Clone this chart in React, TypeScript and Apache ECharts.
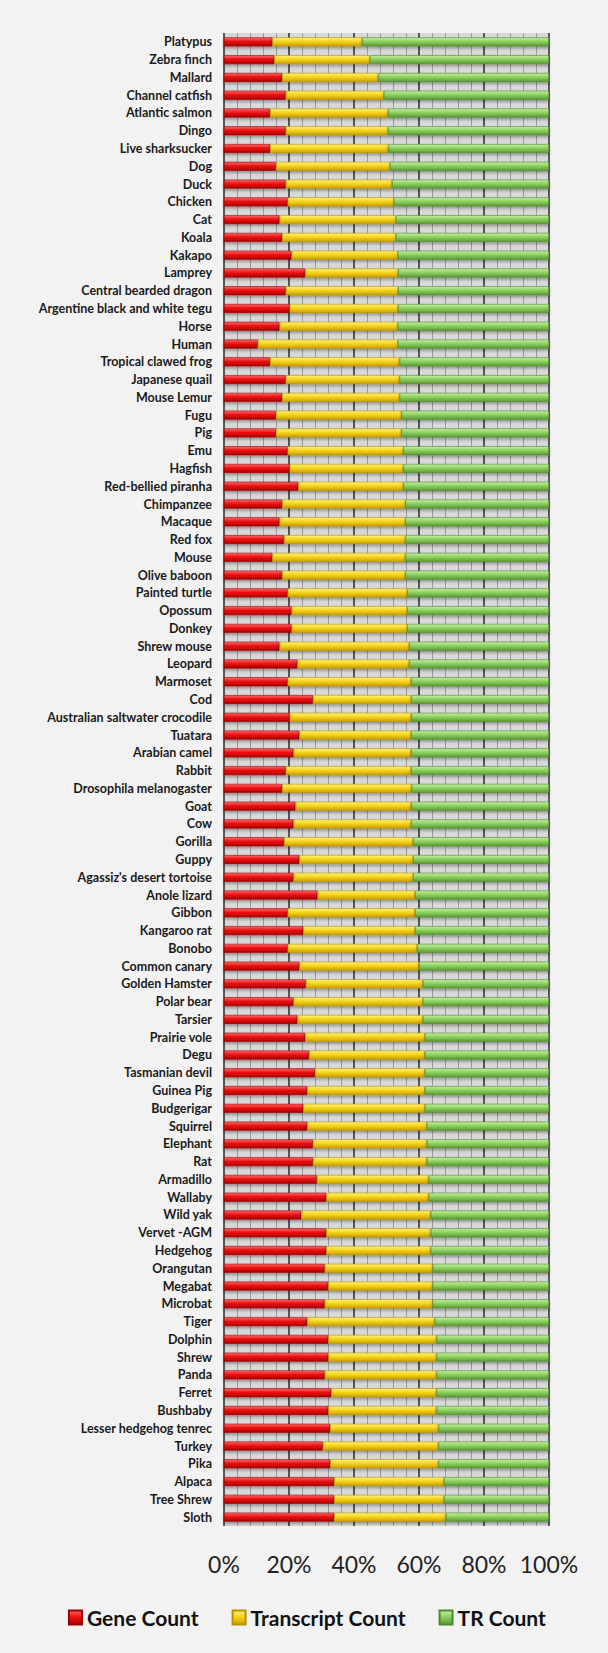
import React, { useEffect, useRef } from "react";
import * as echarts from "echarts";

const species = [
  "Platypus", "Zebra finch", "Mallard", "Channel catfish", "Atlantic salmon", "Dingo",
  "Live sharksucker", "Dog", "Duck", "Chicken", "Cat", "Koala", "Kakapo", "Lamprey",
  "Central bearded dragon", "Argentine black and white tegu", "Horse", "Human",
  "Tropical clawed frog", "Japanese quail", "Mouse Lemur", "Fugu", "Pig", "Emu", "Hagfish",
  "Red-bellied piranha", "Chimpanzee", "Macaque", "Red fox", "Mouse", "Olive baboon",
  "Painted turtle", "Opossum", "Donkey", "Shrew mouse", "Leopard", "Marmoset", "Cod",
  "Australian saltwater crocodile", "Tuatara", "Arabian camel", "Rabbit",
  "Drosophila melanogaster", "Goat", "Cow", "Gorilla", "Guppy", "Agassiz's desert tortoise",
  "Anole lizard", "Gibbon", "Kangaroo rat", "Bonobo", "Common canary", "Golden Hamster",
  "Polar bear", "Tarsier", "Prairie vole", "Degu", "Tasmanian devil", "Guinea Pig",
  "Budgerigar", "Squirrel", "Elephant", "Rat", "Armadillo", "Wallaby", "Wild yak",
  "Vervet -AGM", "Hedgehog", "Orangutan", "Megabat", "Microbat", "Tiger", "Dolphin",
  "Shrew", "Panda", "Ferret", "Bushbaby", "Lesser hedgehog tenrec", "Turkey", "Pika",
  "Alpaca", "Tree Shrew", "Sloth",
];

const geneCount = [
  14.9, 15.5, 17.9, 19.0, 14.2, 19.0, 14.2, 16.0, 19.0, 19.6, 17.1, 17.9, 20.8, 25.0,
  19.0, 20.2, 17.1, 10.4, 14.2, 19.0, 17.9, 16.0, 16.0, 19.6, 20.2, 22.9, 17.9, 17.1,
  18.5, 14.9, 17.9, 19.6, 20.8, 20.8, 17.1, 22.6, 19.6, 27.4, 20.2, 23.2, 21.4, 19.0,
  17.9, 22.0, 21.4, 18.5, 23.2, 21.4, 28.8, 19.6, 24.4, 19.6, 23.2, 25.2, 21.4, 22.6,
  25.0, 26.2, 28.0, 25.6, 24.4, 25.6, 27.4, 27.4, 28.6, 31.5, 23.8, 31.5, 31.5, 31.0,
  32.1, 31.0, 25.6, 32.1, 32.1, 31.0, 33.0, 32.1, 32.7, 30.4, 32.7, 33.9, 33.9, 33.9,
];

const transcriptCount = [
  27.6, 29.4, 29.6, 30.2, 36.3, 31.5, 36.4, 35.1, 32.7, 32.7, 35.8, 35.0, 32.7, 28.6,
  34.6, 33.4, 36.4, 43.1, 39.8, 35.0, 36.1, 38.6, 38.6, 35.6, 35.0, 32.3, 37.9, 38.7,
  37.3, 40.9, 37.9, 36.8, 35.6, 35.6, 39.9, 34.4, 38.0, 30.2, 37.4, 34.4, 36.2, 38.6,
  39.8, 35.6, 36.2, 39.7, 35.0, 36.8, 30.0, 39.2, 34.4, 39.8, 36.8, 36.0, 39.8, 38.6,
  36.8, 35.6, 33.8, 36.2, 37.4, 36.8, 35.0, 35.0, 34.4, 31.5, 39.8, 32.1, 32.1, 33.2,
  32.1, 33.2, 39.2, 33.3, 33.3, 34.4, 32.4, 33.3, 33.3, 35.6, 33.3, 33.8, 33.8, 34.4,
];

const trCount = [
  57.5, 55.1, 52.5, 50.8, 49.5, 49.5, 49.4, 48.9, 48.3, 47.7, 47.1, 47.1, 46.5, 46.4,
  46.4, 46.4, 46.5, 46.5, 46.0, 46.0, 46.0, 45.4, 45.4, 44.8, 44.8, 44.8, 44.2, 44.2,
  44.2, 44.2, 44.2, 43.6, 43.6, 43.6, 43.0, 43.0, 42.4, 42.4, 42.4, 42.4, 42.4, 42.4,
  42.3, 42.4, 42.4, 41.8, 41.8, 41.8, 41.2, 41.2, 41.2, 40.6, 40.0, 38.8, 38.8, 38.8,
  38.2, 38.2, 38.2, 38.2, 38.2, 37.6, 37.6, 37.6, 37.0, 37.0, 36.4, 36.4, 36.4, 35.8,
  35.8, 35.8, 35.2, 34.6, 34.6, 34.6, 34.6, 34.6, 34.0, 34.0, 34.0, 32.3, 32.3, 31.7,
];

const seriesNames = ["Gene Count", "Transcript Count", "TR Count"];
const xTicks = [0, 20, 40, 60, 80, 100];

function grad(top: string, mid: string, bottom: string) {
  return new echarts.graphic.LinearGradient(0, 0, 0, 1, [
    { offset: 0, color: top },
    { offset: 0.45, color: mid },
    { offset: 1, color: bottom },
  ]);
}

export default function App() {
  const ref = useRef<HTMLDivElement>(null);

  useEffect(() => {
    if (!ref.current) return;
    const chart = echarts.init(ref.current, null, { renderer: "svg" });

    const styles = [
      { color: grad("#ff6a6a", "#ee1111", "#a80000"), borderColor: "#9a0000" },
      { color: grad("#fff27a", "#f7d51c", "#c9a000"), borderColor: "#b89000" },
      { color: grad("#c4eea4", "#8fd160", "#5b9a38"), borderColor: "#4d8a2e" },
    ];
    const dataSets = [geneCount, transcriptCount, trCount];

    chart.setOption({
      animation: false,
      backgroundColor: "#f2f2f2",
      grid: {
        left: 224,
        right: 59,
        top: 33,
        bottom: 127,
        show: true,
        backgroundColor: "#d9d9d9",
        borderWidth: 0,
      },
      legend: {
        left: 68,
        top: 1607,
        padding: 0,
        icon: "rect",
        itemWidth: 13,
        itemHeight: 14,
        itemGap: 33,
        data: seriesNames,
        textStyle: {
          fontFamily: "Lato, sans-serif",
          fontWeight: "bold",
          fontSize: 21,
          color: "#111",
        },
      },
      xAxis: {
        type: "value",
        min: xTicks[0],
        max: xTicks[xTicks.length - 1],
        interval: 20,
        axisLine: { show: false },
        axisTick: { show: false },
        axisLabel: {
          formatter: "{value}%",
          fontFamily: "Lato, sans-serif",
          fontSize: 23,
          color: "#222",
          margin: 26,
        },
        splitLine: { show: true, lineStyle: { color: "#2a2a2a", width: 1.5 } },
        minorTick: { show: false, splitNumber: 5 },
        minorSplitLine: { show: true, lineStyle: { color: "#9c9c9c", width: 1 } },
      },
      yAxis: {
        type: "category",
        data: species,
        inverse: true,
        axisLine: { show: false },
        axisTick: { show: false },
        splitLine: { show: false },
        axisLabel: {
          interval: 0,
          fontFamily: "Lato, sans-serif",
          fontWeight: "bold",
          fontSize: 12.5,
          color: "#1a1a1a",
          margin: 12,
        },
      },
      series: seriesNames.map((name, i) => ({
        name,
        type: "bar",
        stack: "total",
        barWidth: 9,
        data: dataSets[i],
        itemStyle: {
          color: styles[i].color,
          borderColor: styles[i].borderColor,
          borderWidth: 0.6,
          shadowColor: "rgba(0,0,0,0.35)",
          shadowBlur: 3,
          shadowOffsetY: 2,
        },
        emphasis: { disabled: true },
      })),
    });

    return () => chart.dispose();
  }, []);

  return (
    <div
      ref={ref}
      style={{ position: "absolute", left: 0, top: 0, width: 608, height: 1653 }}
    />
  );
}
